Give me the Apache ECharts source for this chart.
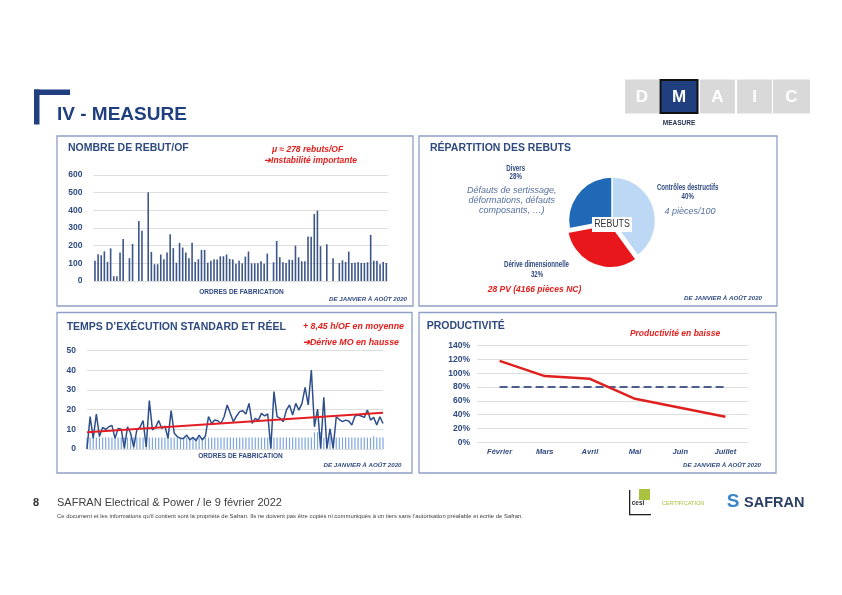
<!DOCTYPE html>
<html><head><meta charset="utf-8">
<script src="https://cdn.jsdelivr.net/npm/echarts@6/dist/echarts.min.js"></script>
<style>html,body{margin:0;padding:0;background:#fff}#c{width:842px;height:595px}</style>
</head><body><div id="c"></div>
<script>
// ---------- DATA ----------
const rebutValues = [115,151,146,168,108,185,27,27,161,238,null,129,210,null,339,284,null,502,165,95,
  95,150,123,161,265,186,104,216,189,161,129,216,108,123,176,176,104,115,123,121,
  140,140,150,125,121,98,115,100,138,167,100,100,100,112,97,155,null,106,227,134,
  106,102,121,119,200,134,112,112,252,250,379,398,197,null,208,null,129,null,102,117,
  108,167,102,104,106,102,102,106,261,115,114,95,108,102];
const rebutCategories = rebutValues.map((v, i) => 'OF ' + (i + 1));

const tempsReel = [0,16.5,5.4,17.8,6.3,11,10,11.3,12,5.4,10.5,10,0.3,11.3,8,1,9.7,11,14.5,1,
  24.6,9.7,11,14.5,10.5,11.7,5.4,19.5,8,6.3,5.4,5.4,7.1,4.6,5.9,4.2,7.1,4.6,6.6,16.5,
  13,14.7,14.4,13,16.4,22.4,18.1,13.9,16.8,19,19.5,17.8,23.2,13,15.6,14.7,18.1,16.8,17.8,0.3,
  29.2,16.5,15.6,13.9,19.8,22.4,17.3,23.2,19.8,23.2,31.4,22.4,40.2,11.3,20.3,0.3,26.3,0.3,10.2,0.3,
  16.4,15,13.9,14.7,14.2,12.2,16.8,17.3,16.8,16.1,19.8,14.7,16.1,12.2,16.4,13];
const tempsStandard = [5.8,5.8,5.8,5.8,5.8,5.8,5.8,5.8,5.8,5.8,5.8,5.8,5.8,5.8,5.8,5.8,5.8,5.8,5.8,5.8,
  5.8,5.8,5.8,5.8,5.8,5.8,5.8,5.8,5.8,5.8,5.8,5.8,5.8,5.8,5.8,5.8,5.8,5.8,5.8,5.8,
  5.8,5.8,5.8,5.8,5.8,5.8,5.8,5.8,5.8,5.8,5.8,5.8,5.8,5.8,5.8,5.8,5.8,5.8,5.8,5.8,
  5.8,5.8,5.8,5.8,5.8,5.8,5.8,5.8,5.8,5.8,5.8,5.8,5.8,8.5,8.5,8.5,5.8,5.8,5.8,5.8,
  5.8,5.8,5.8,5.8,5.8,5.8,5.8,5.8,5.8,5.8,5.8,5.8,6.5,5.8,5.8,5.8];
const tempsCategories = tempsReel.map((v, i) => 'OF ' + (i + 1));
const tendance = [8.5, 18.5]; // début / fin

const repartLabels = ['Contrôles destructifs', 'Dérive dimensionnelle', 'Divers'];
const repartValues = [40, 32, 28];

const months = ['Février', 'Mars', 'Avril', 'Mai', 'Juin', 'Juillet'];
const productivite = [118, 96, 92, 63, 50, 37];
const objectif = [80, 80, 80, 80, 80, 80];

// ---------- STYLE ----------
const FF = "'Liberation Sans', Arial, sans-serif";
const NAVY = '#2F4A80';
const RED = '#E2201E';
const GRID = '#DEDEDE';

function T(text, x, y, o) {
  o = o || {};
  return { type: 'text', silent: true, z: 10, x: x, y: y, scaleX: o.sx || 1, style: {
    text: text, x: 0, y: 0,
    font: (o.style || 'normal') + ' ' + (o.weight || 'normal') + ' ' + (o.size || 10) + 'px ' + FF,
    fill: o.fill || NAVY, textAlign: o.align || 'left', textVerticalAlign: 'middle'
  }};
}
function R(x, y, w, h, fill, stroke, lw) {
  return { type: 'rect', silent: true, shape: { x: x, y: y, width: w, height: h },
    style: { fill: fill || 'none', stroke: stroke || null, lineWidth: lw || 0 } };
}

const axisLab = { fontFamily: FF, fontWeight: 'bold', fontSize: 8.5, color: NAVY };
const splitL = { show: true, lineStyle: { color: GRID, width: 1 } };
const hidden = { show: false };
const pieLab = { weight: 'bold', size: 9, align: 'center', sx: 0.68 };
const pieNote = { style: 'italic', size: 9, fill: '#55709F', align: 'center' };

const graphic = [
  // header
  R(34, 89.5, 5.5, 35, '#1F3F7F'),
  R(34, 89.5, 36, 5.5, '#1F3F7F'),
  T('IV - MEASURE', 57, 115, { weight: 'bold', size: 19, fill: '#1F3F7F' }),
  R(625, 79.5, 34, 34, '#D9D9D9'),
  R(660.5, 80, 37, 33, '#1F3F7F', '#111', 2),
  R(700, 79.5, 35, 34, '#D9D9D9'),
  R(737, 79.5, 35, 34, '#D9D9D9'),
  R(773, 79.5, 37, 34, '#D9D9D9'),
  T('D', 642, 97, { weight: 'bold', size: 17, fill: '#fff', align: 'center' }),
  T('M', 679, 97, { weight: 'bold', size: 17, fill: '#fff', align: 'center' }),
  T('A', 717.5, 97, { weight: 'bold', size: 17, fill: '#fff', align: 'center' }),
  T('I', 754.5, 97, { weight: 'bold', size: 17, fill: '#fff', align: 'center' }),
  T('C', 791.5, 97, { weight: 'bold', size: 17, fill: '#fff', align: 'center' }),
  T('MEASURE', 679, 123.5, { weight: 'bold', size: 6.5, fill: '#1F2F4F', align: 'center' }),

  // panel frames
  R(57, 136, 356, 170, null, '#8E9FC6', 1.3),
  R(419, 136, 358, 170, null, '#8E9FC6', 1.3),
  R(57, 312.5, 355, 160.5, null, '#8E9FC6', 1.3),
  R(419, 312.5, 357, 160.5, null, '#8E9FC6', 1.3),

  // panel 1
  T('NOMBRE DE REBUT/OF', 68, 148, { weight: 'bold', size: 10.5 }),
  T('μ ≈ 278 rebuts/OF', 307.5, 150, { weight: 'bold', style: 'italic', size: 8.5, fill: RED, align: 'center' }),
  T('➔Instabilité importante', 310.5, 161, { weight: 'bold', style: 'italic', size: 8.5, fill: RED, align: 'center' }),
  T('ORDRES DE FABRICATION', 241.5, 292.5, { weight: 'bold', size: 6.5, align: 'center' }),
  T('DE JANVIER À AOÛT 2020', 368, 299.5, { weight: 'bold', style: 'italic', size: 6.2, align: 'center' }),

  // panel 2
  T('RÉPARTITION DES REBUTS', 430, 147.7, { weight: 'bold', size: 10.5 }),
  T(repartLabels[2], 515.7, 168.3, pieLab),
  T(repartValues[2] + '%', 515.7, 177, pieLab),
  T('Défauts de sertissage,', 511.7, 190.7, pieNote),
  T('déformations, défauts', 511.7, 200.7, pieNote),
  T('composants, …)', 511.7, 210.7, pieNote),
  T(repartLabels[0], 687.7, 187.3, pieLab),
  T(repartValues[0] + '%', 687.7, 197, pieLab),
  T('4 pièces/100', 690, 211, pieNote),
  T(repartLabels[1], 536.5, 265, pieLab),
  T(repartValues[1] + '%', 537, 275, pieLab),
  T('28 PV (4166 pièces NC)', 534.5, 289.3, { style: 'italic', weight: 'bold', size: 8.5, fill: RED, align: 'center' }),
  T('DE JANVIER À AOÛT 2020', 723, 298, { weight: 'bold', style: 'italic', size: 6.2, align: 'center' }),
  { type: 'rect', silent: true, z: 11, shape: { x: 592, y: 217, width: 40, height: 15 }, style: { fill: '#fff' } },
  Object.assign(T('REBUTS', 612, 224.7, { size: 10, fill: '#333', align: 'center', sx: 0.88 }), { z: 12 }),

  // panel 3
  T('TEMPS D’EXÉCUTION STANDARD ET RÉEL', 66.7, 326.7, { weight: 'bold', size: 10.5 }),
  T('+ 8,45 h/OF en moyenne', 303, 326.7, { weight: 'bold', style: 'italic', size: 8.8, fill: RED }),
  T('➔Dérive MO en hausse', 303, 343, { weight: 'bold', style: 'italic', size: 8.8, fill: RED }),
  T('ORDRES DE FABRICATION', 240.5, 456.7, { weight: 'bold', size: 6.5, align: 'center' }),
  T('DE JANVIER À AOÛT 2020', 362.5, 465, { weight: 'bold', style: 'italic', size: 6.2, align: 'center' }),

  // panel 4
  T('PRODUCTIVITÉ', 426.7, 326, { weight: 'bold', size: 10.5 }),
  T('Productivité en baisse', 675, 333.3, { weight: 'bold', style: 'italic', size: 8.5, fill: RED, align: 'center' }),
  T('DE JANVIER À AOÛT 2020', 722, 465, { weight: 'bold', style: 'italic', size: 6.2, align: 'center' }),

  // footer
  T('8', 33, 503, { weight: 'bold', size: 11, fill: '#333' }),
  T('SAFRAN Electrical & Power / le 9 février 2022', 57, 503, { size: 11, fill: '#404040' }),
  T('Ce document et les informations qu’il contient sont la propriété de Safran. Ils ne doivent pas être copiés ni communiqués à un tiers sans l’autorisation préalable et écrite de Safran.', 57, 516.5, { size: 5.9, fill: '#404040' }),
  R(629, 490, 1.3, 25, '#222'),
  R(629, 514, 22, 1.3, '#222'),
  R(639, 489, 11, 11, '#A9C23F'),
  T('cesi', 638, 503.5, { weight: 'bold', size: 6.5, fill: '#333', align: 'center' }),
  T('CERTIFICATION', 662, 503.3, { size: 5.6, fill: '#A9C23F' }),
  T('S', 733, 502, { weight: 'bold', size: 19, fill: '#3A86C8', align: 'center' }),
  T('SAFRAN', 744, 502.7, { weight: 'bold', size: 14.5, fill: '#2A3F63' })
];

const option = {
  animation: false,
  backgroundColor: '#fff',
  textStyle: { fontFamily: FF },
  grid: [
    { left: 93.4, top: 175, width: 294.5, height: 106 },
    { left: 87, top: 350.7, width: 296, height: 98.3 },
    { left: 477, top: 345.7, width: 271, height: 96.6 }
  ],
  xAxis: [
    { gridIndex: 0, type: 'category', data: rebutCategories, boundaryGap: true,
      axisLabel: hidden, axisLine: hidden, axisTick: hidden },
    { gridIndex: 1, type: 'category', data: tempsCategories, boundaryGap: false,
      axisLabel: hidden, axisLine: hidden, axisTick: hidden },
    { gridIndex: 2, type: 'category', data: months, boundaryGap: true,
      axisLine: hidden, axisTick: hidden,
      axisLabel: { fontFamily: FF, fontWeight: 'bold', fontStyle: 'italic', fontSize: 7.5, color: NAVY, margin: 6 } }
  ],
  yAxis: [
    { gridIndex: 0, type: 'value', min: 0, max: 600, interval: 100,
      axisLabel: Object.assign({ margin: 11 }, axisLab), splitLine: splitL, axisLine: hidden, axisTick: hidden },
    { gridIndex: 1, type: 'value', min: 0, max: 50, interval: 10,
      axisLabel: Object.assign({ margin: 11 }, axisLab), splitLine: splitL, axisLine: hidden, axisTick: hidden },
    { gridIndex: 2, type: 'value', min: 0, max: 140, interval: 20,
      axisLabel: Object.assign({ margin: 7, formatter: '{value}%' }, axisLab), splitLine: splitL, axisLine: hidden, axisTick: hidden }
  ],
  series: [
    { name: 'Rebuts', type: 'bar', xAxisIndex: 0, yAxisIndex: 0, data: rebutValues,
      barWidth: 1.6, itemStyle: { color: '#3D5689' }, silent: true },
    { name: 'Standard', type: 'bar', xAxisIndex: 1, yAxisIndex: 1, data: tempsStandard,
      barWidth: 1.2, itemStyle: { color: '#7EA6DA' }, silent: true },
    { name: 'Réel', type: 'line', xAxisIndex: 1, yAxisIndex: 1, data: tempsReel,
      symbol: 'none', lineStyle: { color: '#2E4F8C', width: 1.5 }, silent: true },
    { name: 'Tendance', type: 'line', xAxisIndex: 1, yAxisIndex: 1,
      data: [[0, tendance[0]], [tempsReel.length - 1, tendance[1]]],
      symbol: 'none', lineStyle: { color: '#E31E24', width: 2 }, silent: true, z: 5 },
    { name: 'Objectif', type: 'line', xAxisIndex: 2, yAxisIndex: 2, data: objectif,
      symbol: 'none', lineStyle: { color: '#4C5F8E', width: 2, type: [8, 4] }, silent: true },
    { name: 'Productivité', type: 'line', xAxisIndex: 2, yAxisIndex: 2, data: productivite,
      symbol: 'none', lineStyle: { color: '#E0201F', width: 2.5 }, silent: true, z: 5 },
    { name: 'Répartition', type: 'pie', center: [612, 220.5], radius: 43.5, startAngle: 90,
      clockwise: true, selectedMode: 'single', selectedOffset: 4, label: hidden, labelLine: hidden,
      silent: true,
      itemStyle: { borderColor: '#fff', borderWidth: 1.5 },
      data: [
        { name: repartLabels[0], value: repartValues[0], itemStyle: { color: '#BDD8F5' } },
        { name: repartLabels[1], value: repartValues[1], itemStyle: { color: '#E8171C' }, selected: true },
        { name: repartLabels[2], value: repartValues[2], itemStyle: { color: '#1F69B6' } }
      ] }
  ],
  graphic: graphic
};
const chart = echarts.init(document.getElementById('c'), null, { renderer: 'canvas' });
chart.setOption(option);
</script>
</body></html>
